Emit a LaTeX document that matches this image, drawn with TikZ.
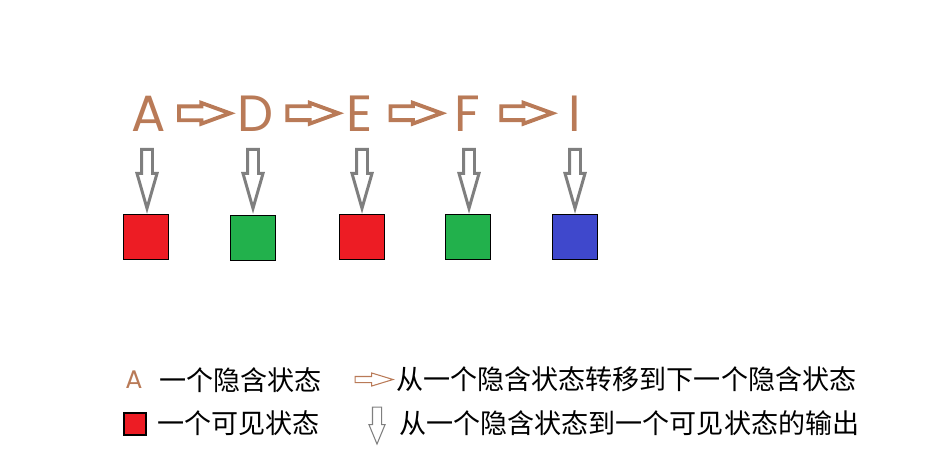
\documentclass[tikz,border=0pt]{standalone}
\usepackage{fontspec}
\newfontfamily\cjk{Noto Sans CJK SC}
\newfontfamily\gothic{Poppins}
\usepackage{tikz}
\usetikzlibrary{calc,shapes.arrows}
\definecolor{hidbrown}{RGB}{185,122,87}
\definecolor{arrgray}{RGB}{127,127,127}
\definecolor{visred}{RGB}{237,28,36}
\definecolor{visgreen}{RGB}{34,177,76}
\definecolor{visblue}{RGB}{63,72,204}

\begin{document}
\begin{tikzpicture}[x=0.02cm,y=-0.02cm]
	\tikzset{hidden/.style={text=hidbrown,font=\gothic\fontsize{29}{29}\selectfont,inner sep=0pt,anchor=base},
		visible/.style={draw=black,line width=0.6pt,minimum size=0.9cm,inner sep=0pt},
		trans/.style={single arrow,draw=hidbrown,line width=2.2pt,anchor=tail,inner xsep=0pt,inner ysep=0.1cm,minimum height=1.02cm,minimum width=0.34cm,single arrow head extend=0.07cm,single arrow tip angle=40},
		emit/.style={single arrow,draw=arrgray,line width=1.7pt,rotate=-90,anchor=tail,inner xsep=0pt,inner ysep=0.08cm,minimum height=1.18cm,minimum width=0.34cm,single arrow head extend=0.09cm,single arrow tip angle=32},
		keytrans/.style={single arrow,draw=hidbrown,line width=0.6pt,anchor=tail,inner xsep=0pt,inner ysep=0.05cm,minimum height=0.76cm,minimum width=0.24cm,single arrow head extend=0.07cm,single arrow tip angle=34},
		keyemit/.style={single arrow,draw=arrgray,line width=0.6pt,rotate=-90,anchor=tail,inner xsep=0pt,inner ysep=0.08cm,minimum height=0.74cm,minimum width=0.3cm,single arrow head extend=0.07cm,single arrow tip angle=45},
		legend/.style={font=\cjk\fontsize{15.4}{16}\selectfont,inner sep=0pt,anchor=west}}
	\useasboundingbox (0,0) rectangle (945,460);
	\node[hidden] (hA) at (149,131) {A};
	\node[hidden] (hD) at (256,131) {D};
	\node[hidden] (hE) at (360,131) {E};
	\node[hidden] (hF) at (467,131) {F};
	\node[hidden] (hI) at (575,131) {I};
	\node[visible,fill=visred] (oA) at (146,237) {};
	\node[visible,fill=visgreen] (oD) at (253,238) {};
	\node[visible,fill=visred] (oE) at (362,237) {};
	\node[visible,fill=visgreen] (oF) at (468,237) {};
	\node[visible,fill=visblue] (oI) at (575,237) {};
	\node[trans] (tAD) at ($(hA.east)!.5!(hD.west)+(-25,0)$) {};
	\node[trans] (tDE) at ($(hD.east)!.5!(hE.west)+(-25,0)$) {};
	\node[trans] (tEF) at ($(hE.east)!.5!(hF.west)+(-25,0)$) {};
	\node[trans] (tFI) at ($(hF.east)!.5!(hI.west)+(-25,0)$) {};
	\node[emit] (eA) at ($(oA.north |- hA.south)+(1,16.5)$) {};
	\node[emit] (eD) at ($(oD.north |- hD.south)+(0,16.5)$) {};
	\node[emit] (eE) at ($(oE.north |- hE.south)+(0,16.5)$) {};
	\node[emit] (eF) at ($(oF.north |- hF.south)+(1,16.5)$) {};
	\node[emit] (eI) at ($(oI.north |- hI.south)+(0,16.5)$) {};
	\node[hidden,font=\gothic\fontsize{14.5}{15}\selectfont] (kHid) at (134,388) {A};
	\node[legend] (tHid) at (159,380) {一个隐含状态};
	\node[visible,fill=visred,minimum size=0.44cm] (kVis) at (135,424) {};
	\node[legend] (tVis) at (157,423) {一个可见状态};
	\node[keytrans] (kTrans) at (354.5,379.5) {};
	\node[legend] (tTrans) at (396,379) {从一个隐含状态转移到下一个隐含状态};
	\node[keyemit] (kEmit) at (377,406.5) {};
	\node[legend] (tEmit) at (399,423) {从一个隐含状态到一个可见状态的输出};
\end{tikzpicture}
\end{document}
